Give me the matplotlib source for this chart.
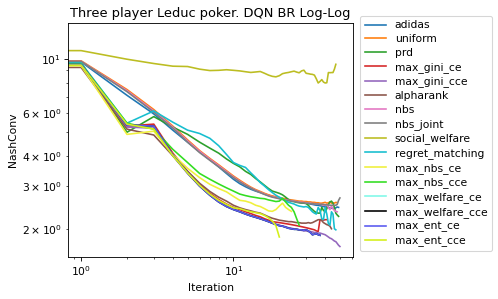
import numpy as np
import matplotlib
matplotlib.use("Agg")
import matplotlib.pyplot as plt

# NashConv per iteration (index 0 = initial policy)
adidas = [9.75, 9.75, 7.1, 5.95, 5.1, 4.55, 4.15, 3.85, 3.6, 3.38, 3.2, 3.07, 2.98, 2.91, 2.86, 2.82,
          2.78, 2.75, 2.72, 2.7, 2.68, 2.66, 2.64, 2.62, 2.61, 2.6, 2.59, 2.58, 2.57, 2.56, 2.55, 2.54,
          2.53, 2.52, 2.51, 2.5, 2.5, 2.49, 2.48, 2.47, 2.46, 2.46, 2.45, 2.44, 2.43, 2.43, 2.42, 2.44,
          2.46, 2.45]
uniform = [9.85, 9.85, 7.5, 6.2, 5.3, 4.65, 4.2, 3.9, 3.67, 3.47, 3.3, 3.17, 3.06, 2.97, 2.9, 2.85,
           2.8, 2.76, 2.73, 2.71, 2.69, 2.67, 2.66, 2.64, 2.63, 2.62, 2.61, 2.6, 2.6, 2.59, 2.59, 2.58,
           2.58, 2.57, 2.57, 2.56, 2.56, 2.55, 2.55, 2.56, 2.57, 2.55, 2.56, 2.58, 2.55, 2.56, 2.55,
           2.57, 2.56]
prd = [9.7, 9.7, 5.0, 5.8, 5.25, 4.9, 4.55, 4.3, 4.1, 3.88, 3.72, 3.6, 3.45, 3.35, 3.22, 3.12, 3.02,
       2.93, 2.86, 2.83, 2.8, 2.76, 2.7, 2.64, 2.6, 2.59, 2.57, 2.56, 2.55, 2.55, 2.54, 2.5, 2.44, 2.4,
       2.36, 2.33, 2.32, 2.32, 2.45, 2.38, 2.35, 2.42, 2.52, 2.58, 2.6, 2.55, 2.45, 2.32, 2.28, 2.25]
max_gini_ce = [9.6, 9.6, 5.3, 5.4, 4.1, 3.45, 3.05, 2.8, 2.64, 2.53, 2.45, 2.4, 2.35, 2.31, 2.27, 2.24,
               2.2, 2.17, 2.14, 2.13, 2.12, 2.11, 2.1, 2.09, 2.08, 2.07, 2.06, 2.05, 2.04, 2.03, 2.02,
               2.01, 2.0, 1.99, 1.98, 1.96, 1.95, 2.18, 2.18, 2.17, 2.18, 2.18]
max_gini_cce = [9.55, 9.55, 5.25, 5.2, 4.0, 3.38, 3.0, 2.76, 2.6, 2.5, 2.42, 2.36, 2.31, 2.27, 2.23,
                2.2, 2.17, 2.14, 2.11, 2.09, 2.07, 2.05, 2.04, 2.02, 2.01, 2.0, 1.99, 1.98, 1.97, 1.96,
                1.96, 1.95, 1.95, 1.94, 1.93, 1.93, 1.92, 1.92, 1.91, 1.9, 1.89, 1.87, 1.85, 1.83, 1.82,
                1.8, 1.78, 1.77, 1.74, 1.71, 1.69]
alpharank = [9.25, 9.25, 5.15, 4.87, 4.0, 3.45, 3.08, 2.85, 2.7, 2.6, 2.5, 2.44, 2.4, 2.37, 2.34, 2.32,
             2.28, 2.24, 2.21, 2.19, 2.17, 2.16, 2.15, 2.14, 2.14, 2.13, 2.12, 2.12, 2.11, 2.11, 2.11,
             2.12, 2.11, 2.12, 2.14, 2.16, 2.18, 2.18, 2.16, 2.12, 2.1, 2.08, 2.07, 2.05, 2.0]
nbs = [9.8, 9.8, 7.42, 6.12, 5.25, 4.6, 4.17, 3.87, 3.64, 3.44, 3.27, 3.14, 3.03, 2.95, 2.88, 2.83,
       2.78, 2.74, 2.71, 2.69, 2.67, 2.65, 2.63, 2.62, 2.61, 2.6, 2.59, 2.58, 2.57, 2.57, 2.56, 2.55,
       2.55, 2.54, 2.54, 2.53, 2.53, 2.52, 2.52, 2.5, 2.5, 2.52, 2.45, 2.4, 2.48, 2.42, 2.38, 2.36, 2.35]
nbs_joint = [9.8, 9.8, 7.35, 6.05, 5.2, 4.55, 4.12, 3.83, 3.6, 3.41, 3.25, 3.12, 3.02, 2.94, 2.87,
             2.82, 2.77, 2.73, 2.7, 2.68, 2.66, 2.64, 2.62, 2.61, 2.6, 2.59, 2.58, 2.57, 2.56, 2.56,
             2.55, 2.55, 2.54, 2.54, 2.53, 2.53, 2.53, 2.52, 2.52, 2.52, 2.51, 2.51, 2.51, 2.5, 2.5,
             2.5, 2.5, 2.5, 2.52, 2.62, 2.68]
social_welfare = [10.85, 10.85, 10.0, 9.6, 9.36, 9.33, 9.1, 8.98, 9.0, 9.05, 9.0, 8.95, 8.88, 8.82,
                  8.86, 8.9, 8.75, 8.6, 8.5, 8.46, 8.55, 8.72, 8.78, 8.82, 8.88, 8.93, 8.85, 8.79, 8.95,
                  9.01, 8.75, 8.72, 8.68, 8.66, 8.6, 8.3, 7.98, 8.1, 8.24, 8.05, 7.98, 8.0, 8.81, 8.8,
                  8.81, 8.81, 9.1, 9.53]
regret_matching = [9.65, 9.65, 5.45, 6.12, 5.5, 5.1, 4.94, 4.72, 4.4, 4.05, 3.75, 3.65, 3.58, 3.4,
                   3.25, 3.1, 3.0, 2.9, 2.82, 2.75, 2.7, 2.66, 2.6, 2.57, 2.55, 2.53, 2.5, 2.48, 2.47,
                   2.46, 2.47, 2.45, 2.4, 2.35, 2.32, 2.3, 2.45, 2.38, 2.2, 2.18, 2.45, 2.3, 2.1, 2.07,
                   2.35, 2.3, 2.0, 1.98]
max_nbs_ce = [9.4, 9.4, 4.9, 5.05, 4.05, 3.55, 3.25, 3.05, 2.93, 2.84, 2.72, 2.62, 2.6, 2.56, 2.5,
              2.47, 2.42, 2.37, 2.36, 2.4, 2.48, 2.55, 2.45, 2.4, 2.36]
max_nbs_cce = [9.55, 9.55, 5.45, 5.15, 4.25, 3.75, 3.38, 3.2, 3.06, 2.95, 2.86, 2.78, 2.74, 2.71, 2.69,
               2.67, 2.66, 2.63, 2.61, 2.59, 2.6, 2.67, 2.58, 2.5, 2.45, 2.35, 2.2, 2.07]
max_ent_ce = [9.5, 9.5, 5.35, 5.3, 4.02, 3.4, 3.0, 2.75, 2.58, 2.47, 2.4, 2.35, 2.3, 2.26, 2.23, 2.2,
              2.17, 2.14, 2.11, 2.08, 2.06, 2.05, 2.03, 2.01, 2.0, 1.99, 1.99, 1.98, 1.98, 1.97, 1.98,
              1.96, 1.93, 1.89, 1.9, 1.91, 1.89, 1.88]
max_ent_cce = [9.45, 9.45, 5.4, 5.15, 4.0, 3.4, 3.02, 2.78, 2.62, 2.52, 2.44, 2.42, 2.38, 2.35, 2.33,
               2.31, 2.27, 2.22, 2.15, 2.06, 1.85]
# these two are not visible in the picture, they sit under max_ent_ce
max_welfare_ce = list(max_ent_ce)
max_welfare_cce = list(max_ent_ce)

names = ['adidas', 'uniform', 'prd', 'max_gini_ce', 'max_gini_cce', 'alpharank', 'nbs', 'nbs_joint',
         'social_welfare', 'regret_matching', 'max_nbs_ce', 'max_nbs_cce', 'max_welfare_ce',
         'max_welfare_cce', 'max_ent_ce', 'max_ent_cce']
series = [adidas, uniform, prd, max_gini_ce, max_gini_cce, alpharank, nbs, nbs_joint, social_welfare,
          regret_matching, max_nbs_ce, max_nbs_cce, max_welfare_ce, max_welfare_cce, max_ent_ce,
          max_ent_cce]
colors = ['#1f77b4', '#ff7f0e', '#2ca02c', '#d62728', '#9467bd', '#8c564b', '#e377c2', '#7f7f7f',
          '#bcbd22', '#17becf', '#f0f03c', '#33dd22', '#80f8e8', 'black', '#5a5af0', '#d4f01a']

fig = plt.figure(figsize=(6.4, 3.8426), dpi=77.8125)
ax = fig.add_axes([0.1365, 0.1405, 0.5725, 0.7825])

for name, vals, c in zip(names, series, colors):
    ax.plot(np.arange(len(vals)), vals, color=c, label=name)

ax.set_xscale('log')
ax.set_yscale('log')
ax.set_xlim(0.82, 61)
ax.set_ylim(1.53, 14.1)
ax.set_title('Three player Leduc poker. DQN BR Log-Log')
ax.set_xlabel('Iteration')
ax.set_ylabel('NashConv')
ax.legend(loc='upper left', bbox_to_anchor=(1.025, 1.03), borderaxespad=0, labelspacing=0.35)

fig.savefig('out.png', dpi=77.8125)
